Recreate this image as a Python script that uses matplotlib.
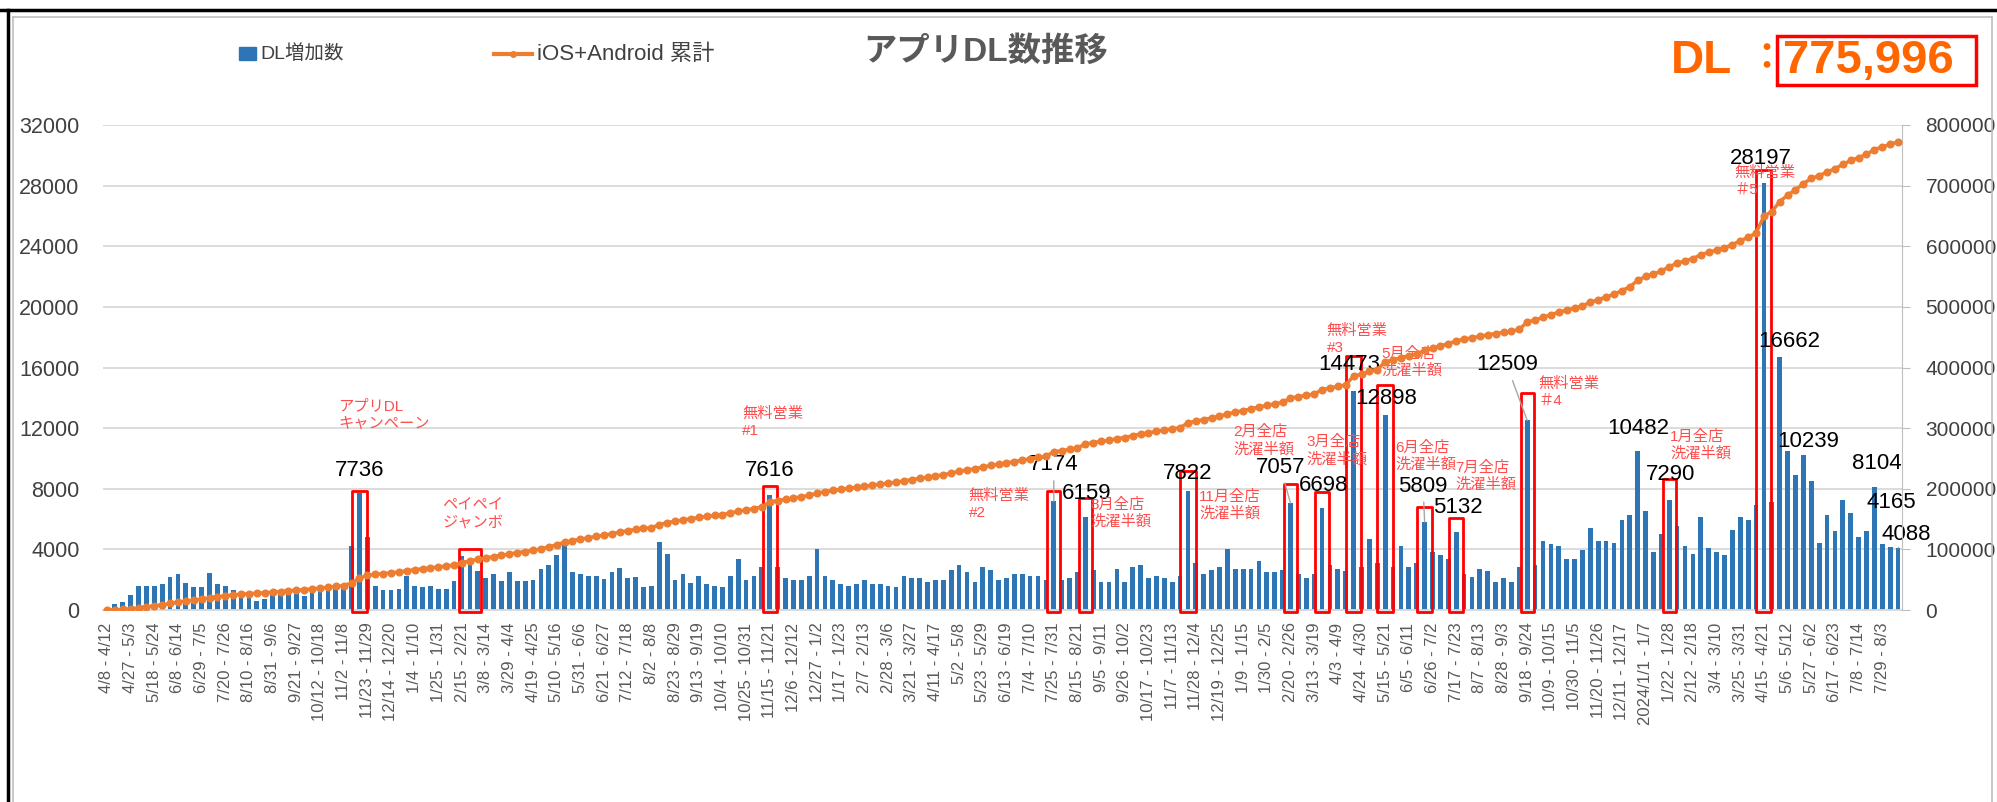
import matplotlib.pyplot as plt
from matplotlib.patches import Rectangle
from matplotlib.lines import Line2D
import numpy as np

plt.rcParams['font.family'] = ['Liberation Sans', 'Noto Sans CJK JP', 'DejaVu Sans']

# week labels shown on the x axis (every 3rd week)
tick_labels = [
    '4/8 - 4/12', '4/27 - 5/3', '5/18 - 5/24', '6/8 - 6/14', '6/29 - 7/5', '7/20 - 7/26',
    '8/10 - 8/16', '8/31 - 9/6', '9/21 - 9/27', '10/12 - 10/18', '11/2 - 11/8', '11/23 - 11/29',
    '12/14 - 12/20', '1/4 - 1/10', '1/25 - 1/31', '2/15 - 2/21', '3/8 - 3/14', '3/29 - 4/4',
    '4/19 - 4/25', '5/10 - 5/16', '5/31 - 6/6', '6/21 - 6/27', '7/12 - 7/18', '8/2 - 8/8',
    '8/23 - 8/29', '9/13 - 9/19', '10/4 - 10/10', '10/25 - 10/31', '11/15 - 11/21', '12/6 - 12/12',
    '12/27 - 1/2', '1/17 - 1/23', '2/7 - 2/13', '2/28 - 3/6', '3/21 - 3/27', '4/11 - 4/17',
    '5/2 - 5/8', '5/23 - 5/29', '6/13 - 6/19', '7/4 - 7/10', '7/25 - 7/31', '8/15 - 8/21',
    '9/5 - 9/11', '9/26 - 10/2', '10/17 - 10/23', '11/7 - 11/13', '11/28 - 12/4', '12/19 - 12/25',
    '1/9 - 1/15', '1/30 - 2/5', '2/20 - 2/26', '3/13 - 3/19', '4/3 - 4/9', '4/24 - 4/30',
    '5/15 - 5/21', '6/5 - 6/11', '6/26 - 7/2', '7/17 - 7/23', '8/7 - 8/13', '8/28 - 9/3',
    '9/18 - 9/24', '10/9 - 10/15', '10/30 - 11/5', '11/20 - 11/26', '12/11 - 12/17', '2024/1/1 - 1/7',
    '1/22 - 1/28', '2/12 - 2/18', '3/4 - 3/10', '3/25 - 3/31', '4/15 - 4/21', '5/6 - 5/12',
    '5/27 - 6/2', '6/17 - 6/23', '7/8 - 7/14', '7/29 - 8/3',
]

# weekly downloads (DL増加数)
dl_part1 = [150, 400, 500, 1000, 1600, 1600, 1600, 1700, 2200, 2350, 1750, 1500, 1500, 2450, 1700,
            1600, 1350, 1050, 1000, 600, 750, 1000, 1050, 1100, 1150, 900, 1200, 1300, 1350, 1400,
            1500, 4200, 7736, 4800, 1600, 1300, 1300, 1400, 2250, 1600, 1500, 1600, 1400, 1400, 1900,
            3550, 3300, 2600, 2100, 2350, 1900, 2500, 1900, 1900, 2000, 2700, 2950, 3600, 4350, 2500,
            2350, 2250, 2250, 2050, 2500, 2750, 2100, 2200, 1500, 1600, 4500, 3700, 2000, 2400, 1800,
            2250]
dl_part2 = [1730, 1600, 1500, 2220, 3350, 2000, 2220, 2840, 7616, 2840, 2100, 2000, 2000, 2220, 4000,
            2220, 2000, 1730, 1600, 1730, 2000, 1730, 1730, 1600, 1500, 2220, 2100, 2100, 1860, 2000,
            2000, 2620, 2950, 2490, 1860, 2840, 2620, 2000, 2100, 2350, 2350, 2220, 2220, 2000,
            7174, 2000, 2100, 2490, 6159, 2620, 1860, 1860, 2730, 1860, 2840, 2950, 2100, 2220, 2100,
            1860, 2220, 7822, 3100, 2350, 2620, 2840, 4000, 2730, 2730, 2730, 3240, 2490, 2490, 2620,
            7057]
dl_part3 = [2350, 2100, 2400, 6698, 2980, 2720, 2600, 14473, 2830, 4690, 3100, 12898, 2830, 4200, 2830,
            3100, 5809, 3820, 3600, 3340, 5132, 2390, 2210, 2700, 2600, 1880, 2100, 1880, 2830, 12509,
            2980, 4550, 4330, 4200, 3340, 3340, 3980, 5440, 4550, 4550, 4440, 5920, 6300, 10482, 6540,
            3820, 5040, 7290, 5550, 4200, 3710, 6140, 4090, 3820, 3600, 5300, 6140, 5920, 6920, 28197,
            7140, 16662, 10500, 8900, 10239, 8530, 4440, 6300, 5190, 7250, 6410, 4820, 5190, 8104, 4330,
            4165, 4088]

weekly = np.array(dl_part1 + dl_part2 + dl_part3)
cumulative = np.cumsum(weekly)          # iOS+Android 累計
total_dl = 775996
x = np.arange(len(weekly))

# highlighted weeks (red frames): centre, frame top, frame width
box_center = [32, 46, 84, 120, 124, 137, 150, 154, 158, 162, 167, 171, 180, 198, 210]
box_top = [7830, 4040, 8150, 7870, 7385, 9200, 8300, 7800, 16730, 14860, 6820, 6080, 14330, 8650, 29030]
box_width = [1.8, 2.8, 1.8, 1.6, 1.6, 2.0, 1.7, 1.8, 1.9, 2.0, 1.9, 1.8, 1.7, 1.6, 1.9]

# numeric data labels: bar index and label position
label_idx = [32, 84, 120, 124, 137, 150, 154, 158, 162, 167, 171, 180, 194, 198, 210, 212, 215, 224, 226, 227]
label_pos = [(32, 9230), (84, 9210), (120, 9580), (124.1, 7710), (137, 8990), (148.7, 9430),
             (154.2, 8230), (157.4, 16180), (162.1, 13980), (166.8, 8180), (171.2, 6750),
             (177.4, 16180), (194.1, 11950), (198.2, 8910), (209.6, 29790), (213.2, 17725),
             (215.6, 11140), (224.3, 9660), (226.2, 7090), (228.1, 5000)]
leader_idx = [120, 150, 167, 180, 227]

# campaign notes
notes = [
    ('アプリDL\nキャンペーン', 29.3, 12875),
    ('ペイペイ\nジャンボ', 42.5, 6315),
    ('無料営業\n#1', 80.5, 12385),
    ('無料営業\n#2', 109.2, 6975),
    ('8月全店\n洗濯半額', 124.6, 6375),
    ('11月全店\n洗濯半額', 138.4, 6895),
    ('2月全店\n洗濯半額', 142.8, 11155),
    ('3月全店\n洗濯半額', 152.0, 10515),
    ('無料営業\n#3', 154.6, 17875),
    ('5月全店\n洗濯半額', 161.5, 16365),
    ('6月全店\n洗濯半額', 163.3, 10140),
    ('7月全店\n洗濯半額', 170.9, 8815),
    ('無料営業\n＃4', 181.4, 14355),
    ('1月全店\n洗濯半額', 198.1, 10855),
    ('無料営業\n＃5', 206.3, 28285),
]

BLUE = '#2E75B6'
ORANGE = '#ED7D31'
RED = '#FF0000'
PINK = '#FF4D4D'
DLORANGE = '#FF6600'

W, H = 1997, 802
fig = plt.figure(figsize=(W / 100, H / 100), dpi=100)


def fx(px):
    return px / W


def fy(py):
    return 1 - py / H


ax = fig.add_axes([fx(103), fy(610), fx(1902) - fx(103), fy(125) - fy(610)])
ax.bar(x, weekly, width=0.6, color=BLUE, zorder=2)
ax.set_xlim(-0.5, len(weekly) - 0.5)
ax.set_ylim(0, 32000)
ax.set_yticks(range(0, 32001, 4000))
ax.grid(axis='y', color='#D9D9D9', lw=1.3)
ax.set_axisbelow(True)
for s in ['top', 'left', 'right']:
    ax.spines[s].set_visible(False)
ax.spines['bottom'].set_color('#D9D9D9')
ax.spines['bottom'].set_linewidth(1.3)
ax.tick_params(axis='y', length=0, pad=17, labelsize=15.5, labelcolor='#404040')
ax.set_xticks(x[::3])
ax.set_xticklabels(tick_labels, rotation=90)
ax.tick_params(axis='x', length=0, pad=9, labelsize=12, labelcolor='#595959')

for c, t, w in zip(box_center, box_top, box_width):
    ax.add_patch(Rectangle((c - w / 2, -150), w, t + 150, fill=False, ec=RED, lw=2,
                           joinstyle='round', zorder=4, clip_on=False))

for i, (lx, ly) in zip(label_idx, label_pos):
    props = dict(arrowstyle='-', color='#A6A6A6', lw=1, shrinkA=2, shrinkB=0) if i in leader_idx else None
    ax.annotate(str(weekly[i]), xy=(i, weekly[i]), xytext=(lx, ly), textcoords='data',
                ha='center', va='center', fontsize=16, color='black', zorder=5,
                arrowprops=props, annotation_clip=False)

for txt, nx, ny in notes:
    ax.text(nx, ny, txt, ha='left', va='center', fontsize=11, color=PINK,
            linespacing=1.25, zorder=5)

ax2 = ax.twinx()
ax2.plot(x, cumulative, color=ORANGE, lw=2.5, marker='o', ms=4.8, zorder=3)
ax2.set_ylim(0, 800000)
ax2.set_yticks(range(0, 800001, 100000))
for s in ['top', 'left', 'bottom']:
    ax2.spines[s].set_visible(False)
ax2.spines['right'].set_color('#BFBFBF')
ax2.tick_params(axis='y', length=6, color='#BFBFBF', pad=11, labelsize=15, labelcolor='#404040')

# legend drawn by hand, in the Excel layout
fig.add_artist(Rectangle((fx(239), fy(60)), fx(256) - fx(239), fy(47) - fy(60), color=BLUE))
fig.text(fx(260), fy(54), 'DL増加数', ha='left', va='center', fontsize=14, color='#404040')
fig.add_artist(Line2D([fx(494), fx(532)], [fy(54), fy(54)], color=ORANGE, lw=3))
fig.add_artist(Line2D([fx(513)], [fy(54)], color=ORANGE, marker='o', ms=4))
fig.text(fx(537), fy(54), 'iOS+Android 累計', ha='left', va='center', fontsize=16, color='#404040')

fig.text(fx(986), fy(52), 'アプリDL数推移', ha='center', va='center', fontsize=24,
         fontweight='bold', color='#595959')

fig.text(fx(1702), fy(61), 'DL', ha='center', va='center', fontsize=33, fontweight='bold',
         color=DLORANGE)
fig.text(fx(1766), fy(60), '：', ha='center', va='center', fontsize=26, fontweight='bold',
         color=DLORANGE)
fig.add_artist(Rectangle((fx(1777), fy(85)), fx(1976) - fx(1777), fy(36) - fy(85),
                         fill=False, ec=RED, lw=2.5))
fig.text(fx(1868), fy(61), f'{total_dl:,}', ha='center', va='center', fontsize=34,
         fontweight='bold', color=DLORANGE)

# screenshot frame
fig.add_artist(Line2D([0, 1], [fy(10), fy(10)], color='black', lw=2.5))
fig.add_artist(Line2D([fx(8), fx(8)], [0, fy(10)], color='black', lw=2.5))
fig.add_artist(Line2D([fx(13), fx(1992)], [fy(17), fy(17)], color='#BFBFBF', lw=1.2))
fig.add_artist(Line2D([fx(13), fx(13)], [0, fy(17)], color='#BFBFBF', lw=1.2))
fig.add_artist(Line2D([fx(1992), fx(1992)], [0, fy(17)], color='#BFBFBF', lw=1.2))

fig.savefig('out.png', dpi=100)
